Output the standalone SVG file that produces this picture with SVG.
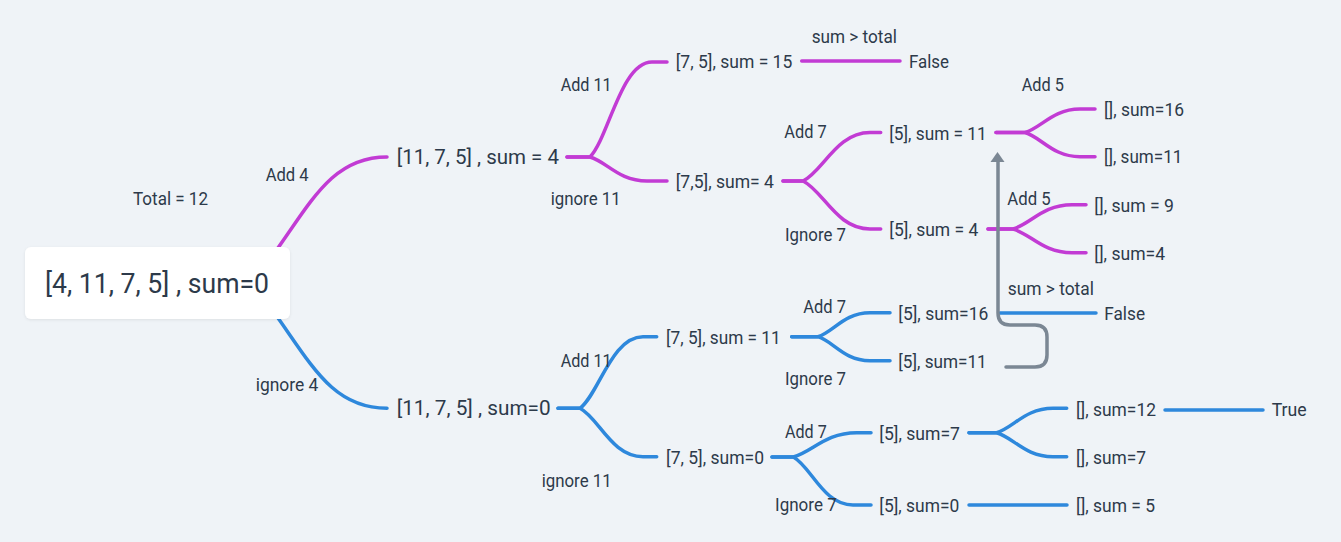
<svg xmlns="http://www.w3.org/2000/svg" width="1341" height="542" viewBox="0 0 1341 542">
<style>
text{font-family:Roboto,"Liberation Sans",sans-serif;fill:#2d3a4a;font-size:17.5px}
.l1{font-size:19.5px}
.root{font-size:27px}
.p{fill:none;stroke:#c23bd4;stroke-width:3.5;stroke-linecap:round}
.b{fill:none;stroke:#2e88dc;stroke-width:3.5;stroke-linecap:round}
.g{fill:none;stroke:#7b8794;stroke-width:3.5;stroke-linecap:round}
</style>
<defs>
<filter id="sh" x="-10%" y="-20%" width="120%" height="150%"><feDropShadow dx="0" dy="1" stdDeviation="1.5" flood-color="#000" flood-opacity="0.08"/></filter>
</defs>
<rect width="1341" height="542" fill="#eff3f7"/>
<g id="connectors">
<path class="p" d="M268 262 C310 205 330 157 387 157"/>
<path class="b" d="M268 304 C310 361 330 408.3 387 408.3"/>
<path class="p" d="M567 157 H590 C608.6 138 621 62 652 62 H667"/>
<path class="p" d="M567 157 H590 C607.1 161.8 618.5 181 647 181 H667"/>
<path class="p" d="M801.7 61 H900"/>
<path class="p" d="M783 181 H803 C823.1 171.3 836.5 132.5 870 132.5 H880.7"/>
<path class="p" d="M783 181 H803 C823.1 190.6 836.5 229 870 229 H880.7"/>
<path class="p" d="M996 132.5 H1025 C1041.5 127.8 1052.5 109 1080 109 H1095"/>
<path class="p" d="M996 132.5 H1025 C1041.5 137.3 1052.5 156.7 1080 156.7 H1095"/>
<path class="p" d="M988 229 H1013 C1030.7 224.1 1042.5 204.7 1072 204.7 H1086"/>
<path class="p" d="M988 229 H1013 C1030.7 233.7 1042.5 252.7 1072 252.7 H1086"/>
<path class="b" d="M558 408.3 H580 C598.9 394 611.5 336.7 643 336.7 H656.7"/>
<path class="b" d="M558 408.3 H580 C598.9 418 611.5 456.7 643 456.7 H656.7"/>
<path class="b" d="M791.7 336.7 H818 C833.6 331.9 844 312.7 870 312.7 H890"/>
<path class="b" d="M791.7 336.7 H818 C833.6 341.5 844 360.7 870 360.7 H890"/>
<path class="b" d="M1000 313 H1096"/>
<path class="b" d="M772 457 H793.3 C812.3 452.1 825 432.7 856.7 432.7 H871"/>
<path class="b" d="M772 457 H793.3 C811.2 466.6 823.2 505 853 505 H871"/>
<path class="b" d="M969 432.7 H996.7 C1013.6 427.8 1024.9 408.3 1053 408.3 H1066.7"/>
<path class="b" d="M969 432.7 H996.7 C1013.6 437.5 1024.9 456.7 1053 456.7 H1066.7"/>
<path class="b" d="M969 505 H1067"/>
<path class="b" d="M1165 410 H1263"/>
<path class="g" d="M1006 367 H1035 Q1047 367 1047 355 V337 Q1047 325 1035 325 H1010 Q998 325 998 313 V160"/>
<polygon points="997.5,152 1004.5,162 990.5,162" fill="#7b8794"/>
</g>
<g id="root">
<rect x="25" y="247" width="265" height="72" rx="6" fill="#ffffff" filter="url(#sh)"/>
<text class="root" x="45" y="292.5" textLength="224" lengthAdjust="spacingAndGlyphs">[4, 11, 7, 5] , sum=0</text>
</g>
<g id="labels">
<text x="133" y="205" textLength="75" lengthAdjust="spacingAndGlyphs">Total = 12</text>
<text x="265.7" y="180.7" textLength="43" lengthAdjust="spacingAndGlyphs">Add 4</text>
<text x="255.7" y="390.7" textLength="62.7" lengthAdjust="spacingAndGlyphs">ignore 4</text>
<text x="560.7" y="91" textLength="51" lengthAdjust="spacingAndGlyphs">Add 11</text>
<text x="550.7" y="205" textLength="70" lengthAdjust="spacingAndGlyphs">ignore 11</text>
<text x="811.7" y="42.7" textLength="85.3" lengthAdjust="spacingAndGlyphs">sum &gt; total</text>
<text x="784.3" y="138.3" textLength="42.4" lengthAdjust="spacingAndGlyphs">Add 7</text>
<text x="785" y="241" textLength="61" lengthAdjust="spacingAndGlyphs">Ignore 7</text>
<text x="1021.7" y="90.7" textLength="42.3" lengthAdjust="spacingAndGlyphs">Add 5</text>
<text x="1007.3" y="205" textLength="43.4" lengthAdjust="spacingAndGlyphs">Add 5</text>
<text x="1007.7" y="295" textLength="86.3" lengthAdjust="spacingAndGlyphs">sum &gt; total</text>
<text x="560.7" y="366.7" textLength="51" lengthAdjust="spacingAndGlyphs">Add 11</text>
<text x="541.7" y="486.7" textLength="70" lengthAdjust="spacingAndGlyphs">ignore 11</text>
<text x="803.3" y="312.7" textLength="42.7" lengthAdjust="spacingAndGlyphs">Add 7</text>
<text x="785" y="385" textLength="61" lengthAdjust="spacingAndGlyphs">Ignore 7</text>
<text x="785" y="438.3" textLength="41.7" lengthAdjust="spacingAndGlyphs">Add 7</text>
<text x="775" y="511" textLength="61.7" lengthAdjust="spacingAndGlyphs">Ignore 7</text>
</g>
<g id="n-add4"><text class="l1" x="396.7" y="164" textLength="162.3" lengthAdjust="spacingAndGlyphs">[11, 7, 5] , sum = 4</text></g>
<g id="n-ign4"><text class="l1" x="396.7" y="415" textLength="154" lengthAdjust="spacingAndGlyphs">[11, 7, 5] , sum=0</text></g>
<g id="n-a"><text x="675.7" y="68" textLength="116.6" lengthAdjust="spacingAndGlyphs">[7, 5], sum = 15</text></g>
<g id="n-false1"><text x="909" y="67.7" textLength="40" lengthAdjust="spacingAndGlyphs">False</text></g>
<g id="n-b"><text x="675.7" y="187.7" textLength="98.3" lengthAdjust="spacingAndGlyphs">[7,5], sum= 4</text></g>
<g id="n-c"><text x="889.3" y="139.5" textLength="97.4" lengthAdjust="spacingAndGlyphs">[5], sum = 11</text></g>
<g id="n-d"><text x="889.3" y="236" textLength="89" lengthAdjust="spacingAndGlyphs">[5], sum = 4</text></g>
<g id="n-e"><text x="1104" y="115.7" textLength="80" lengthAdjust="spacingAndGlyphs">[], sum=16</text></g>
<g id="n-f"><text x="1104" y="163.3" textLength="78.3" lengthAdjust="spacingAndGlyphs">[], sum=11</text></g>
<g id="n-g"><text x="1094.3" y="211.7" textLength="79.7" lengthAdjust="spacingAndGlyphs">[], sum = 9</text></g>
<g id="n-h"><text x="1094.3" y="260" textLength="70.7" lengthAdjust="spacingAndGlyphs">[], sum=4</text></g>
<g id="n-i"><text x="666" y="344" textLength="114.7" lengthAdjust="spacingAndGlyphs">[7, 5], sum = 11</text></g>
<g id="n-j"><text x="666" y="464" textLength="98" lengthAdjust="spacingAndGlyphs">[7, 5], sum=0</text></g>
<g id="n-k"><text x="898.3" y="320" textLength="90" lengthAdjust="spacingAndGlyphs">[5], sum=16</text></g>
<g id="n-false2"><text x="1104.3" y="320" textLength="40.7" lengthAdjust="spacingAndGlyphs">False</text></g>
<g id="n-l"><text x="898.3" y="368.3" textLength="88.4" lengthAdjust="spacingAndGlyphs">[5], sum=11</text></g>
<g id="n-m"><text x="879.3" y="440" textLength="80.7" lengthAdjust="spacingAndGlyphs">[5], sum=7</text></g>
<g id="n-n"><text x="879.3" y="511.7" textLength="80" lengthAdjust="spacingAndGlyphs">[5], sum=0</text></g>
<g id="n-o"><text x="1076" y="416" textLength="80" lengthAdjust="spacingAndGlyphs">[], sum=12</text></g>
<g id="n-true"><text x="1271.7" y="416" textLength="35" lengthAdjust="spacingAndGlyphs">True</text></g>
<g id="n-p"><text x="1076" y="464" textLength="70" lengthAdjust="spacingAndGlyphs">[], sum=7</text></g>
<g id="n-q"><text x="1076" y="511.7" textLength="79" lengthAdjust="spacingAndGlyphs">[], sum = 5</text></g>
</svg>
